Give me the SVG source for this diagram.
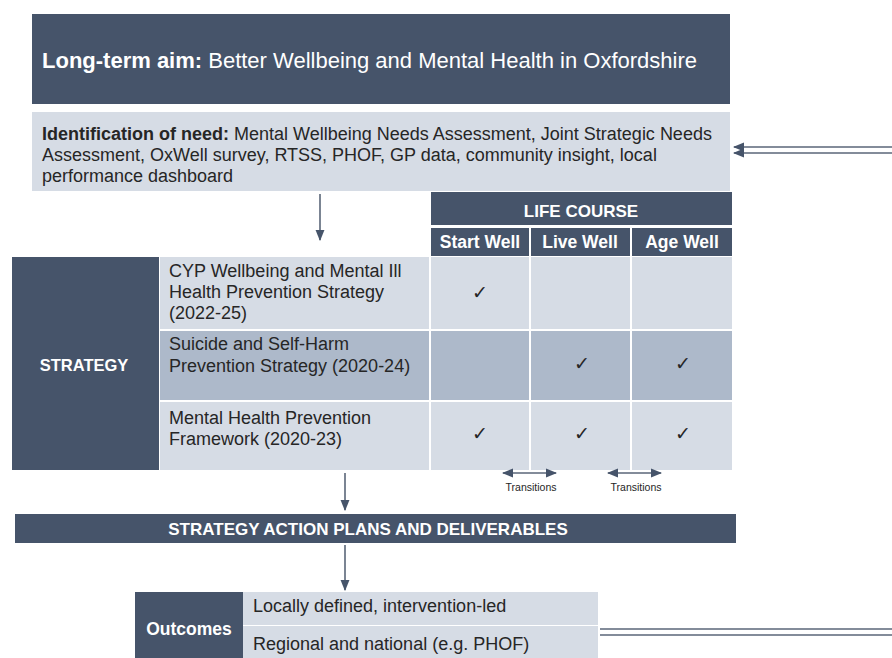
<svg xmlns="http://www.w3.org/2000/svg" width="892" height="658" viewBox="0 0 892 658">
<defs>
<style>
.dark{fill:#46546a}
.light{fill:#d6dce5}
.mid{fill:#adb9ca}
text{font-family:"Liberation Sans",Arial,sans-serif}
.w{fill:#ffffff;font-weight:bold}
.t{fill:#262626;font-size:18px}
.ck{fill:#262626;font-size:19px;text-anchor:middle}
.ln{stroke:#5a6678;stroke-width:1.6;fill:none}
.sm{fill:#262626;font-size:10.5px;text-anchor:middle}
</style>
<marker id="ah" viewBox="0 0 10 10" refX="9" refY="5" markerWidth="7" markerHeight="7" orient="auto-start-reverse">
<path d="M0,1 L10,5 L0,9 z" fill="#46546a"/>
</marker>
</defs>
<rect width="892" height="658" fill="#ffffff"/>

<g id="aim">
<rect class="dark" x="32" y="14" width="698" height="90"/>
<text x="42" y="68" font-size="22" fill="#fff"><tspan font-weight="bold">Long-term aim:</tspan>  Better Wellbeing and Mental Health in Oxfordshire</text>
</g>

<g id="need">
<rect class="light" x="32" y="112" width="698" height="79"/>
<text class="t" x="42" y="140"><tspan font-weight="bold">Identification of need:</tspan> Mental Wellbeing Needs Assessment, Joint Strategic Needs</text>
<text class="t" x="42" y="161">Assessment, OxWell survey, RTSS, PHOF, GP data, community insight, local</text>
<text class="t" x="42" y="182">performance dashboard</text>
</g>

<g id="lifecourse">
<rect class="dark" x="431" y="192" width="301" height="33"/>
<text class="w" x="581" y="217" font-size="17" text-anchor="middle">LIFE COURSE</text>
<rect class="dark" x="431" y="228" width="98" height="28"/>
<rect class="dark" x="531" y="228" width="99" height="28"/>
<rect class="dark" x="632" y="228" width="100" height="28"/>
<text class="w" x="480" y="248" font-size="17.5" text-anchor="middle">Start Well</text>
<text class="w" x="580" y="248" font-size="17.5" text-anchor="middle">Live Well</text>
<text class="w" x="682" y="248" font-size="17.5" text-anchor="middle">Age Well</text>
</g>

<g id="strategy">
<rect class="dark" x="12" y="257" width="147" height="213"/>
<text class="w" x="84" y="371" font-size="16.5" text-anchor="middle">STRATEGY</text>
</g>

<g id="row1">
<rect class="light" x="160" y="257" width="269" height="72"/>
<rect class="light" x="431" y="257" width="98" height="72"/>
<rect class="light" x="531" y="257" width="99" height="72"/>
<rect class="light" x="632" y="257" width="100" height="72"/>
<text class="t" x="169" y="277">CYP Wellbeing and Mental Ill</text>
<text class="t" x="169" y="298">Health Prevention Strategy</text>
<text class="t" x="169" y="319">(2022-25)</text>
<text class="ck" x="480" y="299">✓</text>
</g>

<g id="row2">
<rect class="mid" x="160" y="331" width="269" height="69"/>
<rect class="mid" x="431" y="331" width="98" height="69"/>
<rect class="mid" x="531" y="331" width="99" height="69"/>
<rect class="mid" x="632" y="331" width="100" height="69"/>
<text class="t" x="169" y="350">Suicide and Self-Harm</text>
<text class="t" x="169" y="372">Prevention Strategy (2020-24)</text>
<text class="ck" x="582" y="370">✓</text>
<text class="ck" x="683" y="370">✓</text>
</g>

<g id="row3">
<rect class="light" x="160" y="402" width="269" height="68"/>
<rect class="light" x="431" y="402" width="98" height="68"/>
<rect class="light" x="531" y="402" width="99" height="68"/>
<rect class="light" x="632" y="402" width="100" height="68"/>
<text class="t" x="169" y="424">Mental Health Prevention</text>
<text class="t" x="169" y="445">Framework (2020-23)</text>
<text class="ck" x="480" y="440">✓</text>
<text class="ck" x="582" y="440">✓</text>
<text class="ck" x="683" y="440">✓</text>
</g>

<g id="transitions">
<text class="sm" x="531" y="491">Transitions</text>
<text class="sm" x="636" y="491">Transitions</text>
</g>

<g id="actionplans">
<rect class="dark" x="15" y="514" width="721" height="29"/>
<text class="w" x="368" y="535" font-size="17" text-anchor="middle">STRATEGY ACTION PLANS AND DELIVERABLES</text>
</g>

<g id="outcomes">
<rect class="dark" x="135" y="592" width="108" height="66"/>
<text class="w" x="189" y="635" font-size="17.5" text-anchor="middle">Outcomes</text>
<rect class="light" x="243" y="592" width="355" height="33"/>
<rect class="light" x="243" y="626" width="355" height="32"/>
<text class="t" x="253" y="612">Locally defined, intervention-led</text>
<text class="t" x="253" y="650">Regional and national (e.g. PHOF)</text>
</g>

<g id="connectors">
<line class="ln" x1="892" y1="147" x2="734" y2="147" marker-end="url(#ah)"/>
<line class="ln" x1="892" y1="153" x2="734" y2="153" marker-end="url(#ah)"/>
<line class="ln" x1="320" y1="194" x2="320" y2="240" marker-end="url(#ah)"/>
<line class="ln" x1="345" y1="473" x2="345" y2="510" marker-end="url(#ah)"/>
<line class="ln" x1="345" y1="545" x2="345" y2="590" marker-end="url(#ah)"/>
<line class="ln" x1="503" y1="473" x2="556" y2="473" marker-start="url(#ah)" marker-end="url(#ah)"/>
<line class="ln" x1="608" y1="473" x2="661" y2="473" marker-start="url(#ah)" marker-end="url(#ah)"/>
<line class="ln" x1="600" y1="629" x2="892" y2="629"/>
<line class="ln" x1="600" y1="635" x2="892" y2="635"/>
</g>
</svg>
